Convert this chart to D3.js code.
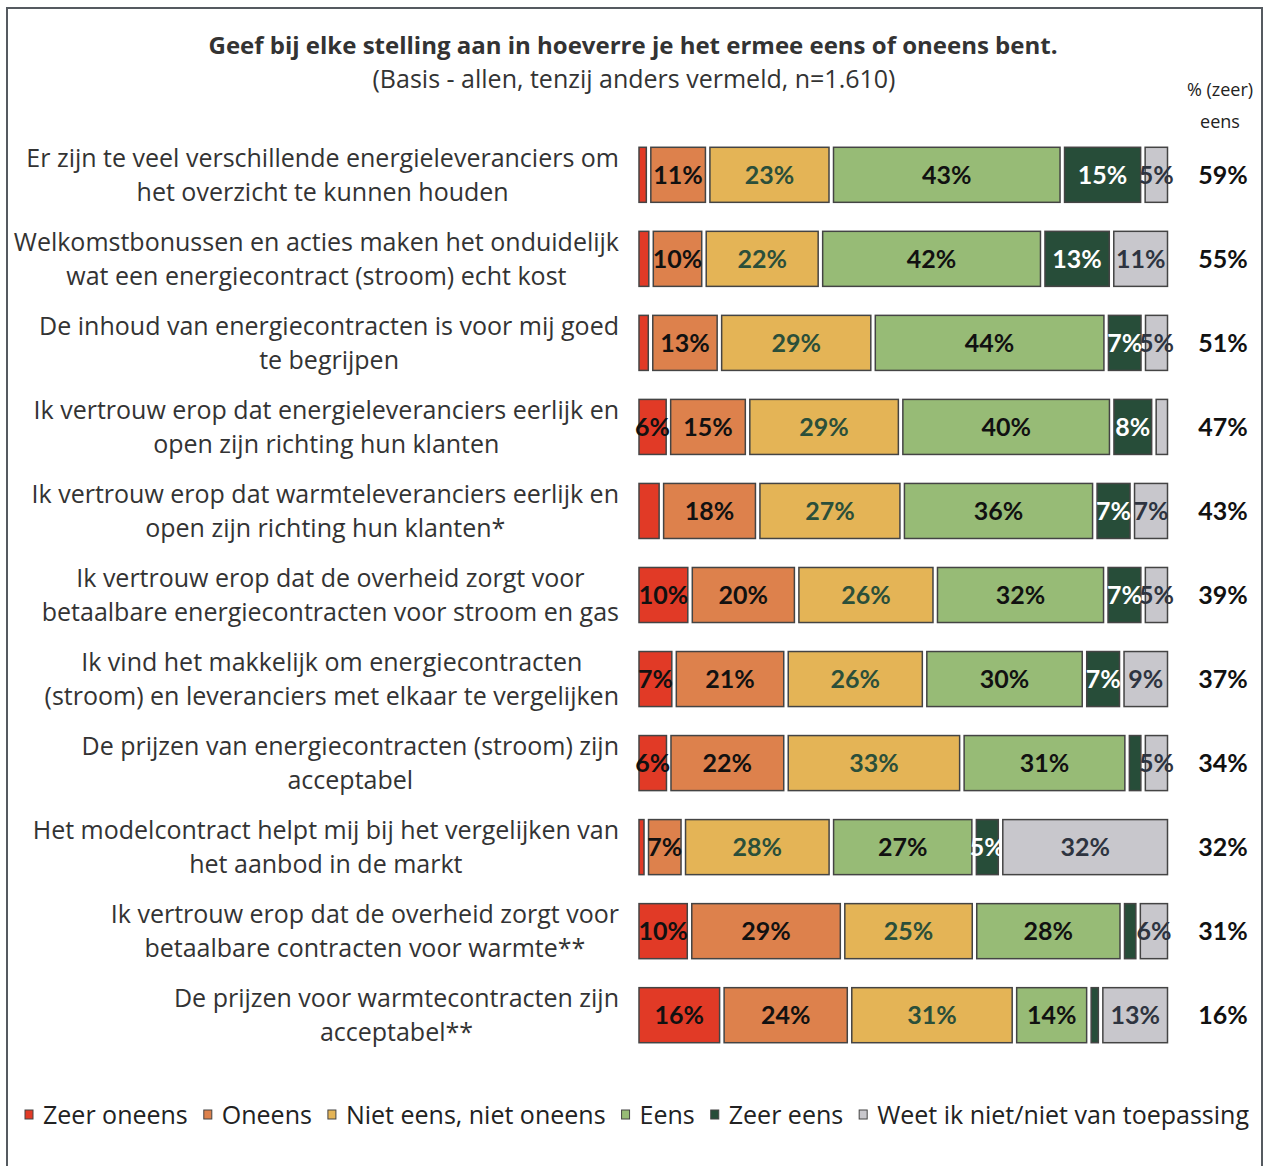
<!DOCTYPE html>
<html><head><meta charset="utf-8">
<script src="https://cdn.jsdelivr.net/npm/d3@7"></script>
<style>
html,body{margin:0;padding:0;background:#fff;}
svg{display:block;font-family:"Open Sans","Noto Sans",sans-serif;}
.num{font-family:Lato,"Open Sans",sans-serif;}
</style></head>
<body>
<svg id="chart" width="1265" height="1166"></svg>
<script>
const categories = [
  ["Er zijn te veel verschillende energieleveranciers om","het overzicht te kunnen houden"],
  ["Welkomstbonussen en acties maken het onduidelijk","wat een energiecontract (stroom) echt kost"],
  ["De inhoud van energiecontracten is voor mij goed","te begrijpen"],
  ["Ik vertrouw erop dat energieleveranciers eerlijk en","open zijn richting hun klanten"],
  ["Ik vertrouw erop dat warmteleveranciers eerlijk en","open zijn richting hun klanten*"],
  ["Ik vertrouw erop dat de overheid zorgt voor","betaalbare energiecontracten voor stroom en gas"],
  ["Ik vind het makkelijk om energiecontracten","(stroom) en leveranciers met elkaar te vergelijken"],
  ["De prijzen van energiecontracten (stroom) zijn","acceptabel"],
  ["Het modelcontract helpt mij bij het vergelijken van","het aanbod in de markt"],
  ["Ik vertrouw erop dat de overheid zorgt voor","betaalbare contracten voor warmte**"],
  ["De prijzen voor warmtecontracten zijn","acceptabel**"]
];
const seriesNames = ["Zeer oneens","Oneens","Niet eens, niet oneens","Eens","Zeer eens","Weet ik niet/niet van toepassing"];
const zeerOneens  = [2.2, 2.7, 2.6, 6, 4.6, 10, 7, 6, 1.8, 10, 16];
const oneens      = [11,10,13,15,18,20,21,22, 7,29,24];
const neutraal    = [23,22,29,29,27,26,26,33,28,25,31];
const eens        = [43,42,44,40,36,32,30,31,27,28,14];
const zeerEens    = [15,13, 7, 8, 7, 7, 7, 3, 5, 3, 2.2];
const weetNiet    = [ 5,11, 5, 3, 7, 5, 9, 5,32, 6,13];
const totalEens   = [59,55,51,47,43,39,37,34,32,31,16];
const colors = ["#e13a26","#dd814c","#e4b456","#97bb76","#274d39","#c8c7cc"];
const labelColors = ["#111","#111","#2b4f3a","#111","#ffffff","#2e3440"];

const svg = d3.select("#chart");
const keys = ["z0","z1","z2","z3","z4","z5"];
const seriesArr = [zeerOneens,oneens,neutraal,eens,zeerEens,weetNiet];
const rows = categories.map((c,i)=>{const o={i};keys.forEach((k,j)=>o[k]=seriesArr[j][i]);return o;});
const stacked = d3.stack().keys(keys).offset(d3.stackOffsetExpand)(rows);

const x = d3.scaleLinear().domain([0,1]).range([639,1172]);
const y = d3.scaleBand().domain(d3.range(categories.length)).range([133,1057]).paddingInner(0.345).paddingOuter(0.17);
const gap = 4.5;

// border
svg.append("rect").attr("x",7).attr("y",8).attr("width",1255).attr("height",1170)
  .attr("fill","none").attr("stroke","#555a60").attr("stroke-width",2);

// title
svg.append("text").attr("x",633).attr("y",54).attr("text-anchor","middle")
  .attr("font-size",24).attr("font-weight",700).attr("fill","#333")
  .text("Geef bij elke stelling aan in hoeverre je het ermee eens of oneens bent.");
svg.append("text").attr("x",634).attr("y",88).attr("text-anchor","middle")
  .attr("font-size",25).attr("fill","#333")
  .text("(Basis - allen, tenzij anders vermeld, n=1.610)");
svg.append("text").attr("x",1220).attr("y",96).attr("text-anchor","middle")
  .attr("font-size",18).attr("fill","#222").text("% (zeer)");
svg.append("text").attr("x",1220).attr("y",128).attr("text-anchor","middle")
  .attr("font-size",18).attr("fill","#222").text("eens");

// bars
const g = svg.append("g");
stacked.forEach((s,j)=>{
  const sg = g.append("g");
  sg.selectAll("rect").data(s).join("rect")
    .attr("x",d=>x(d[0]))
    .attr("y",(d,i)=>y(i))
    .attr("width",d=>Math.max(0,x(d[1])-x(d[0])-gap))
    .attr("height",y.bandwidth())
    .attr("fill",colors[j])
    .attr("stroke","#444").attr("stroke-width",1.5);
  sg.selectAll("text").data(s.filter((d,i)=>seriesArr[j][i]>=5)).join("text")
    .attr("class","num")
    .attr("x",d=>(x(d[0])+x(d[1])-gap)/2)
    .attr("y",d=>y(d.data.i)+y.bandwidth()/2)
    .attr("dy","0.36em")
    .attr("text-anchor","middle")
    .attr("font-size",25).attr("font-weight",700)
    .attr("fill",labelColors[j])
    .text(d=>Math.round(seriesArr[j][d.data.i])+"%");
});

// total eens
svg.append("g").selectAll("text").data(totalEens).join("text")
  .attr("class","num")
  .attr("x",1223).attr("y",(d,i)=>y(i)+y.bandwidth()/2).attr("dy","0.36em")
  .attr("text-anchor","middle").attr("font-size",25).attr("font-weight",700).attr("fill","#111")
  .text(d=>d+"%");

// category labels: block right-aligned at 619, lines centered within block
const lg = svg.append("g");
categories.forEach((lines,i)=>{
  const cy = y(i)+y.bandwidth()/2;
  const texts = lines.map((l,k)=>lg.append("text")
    .attr("y",cy+(k-(lines.length-1)/2)*34).attr("dy","0.35em")
    .attr("text-anchor","middle").attr("font-size",25).attr("fill","#333").text(l));
  const maxW = d3.max(texts,t=>t.node().getComputedTextLength());
  texts.forEach(t=>t.attr("x",619-maxW/2));
});

// legend
const leg = svg.append("g");
let lx = 25;
seriesNames.forEach((n,j)=>{
  leg.append("rect").attr("x",lx).attr("y",1110).attr("width",8).attr("height",9)
    .attr("fill",colors[j]).attr("stroke","#444").attr("stroke-width",1);
  const t = leg.append("text").attr("x",lx+18).attr("y",1115).attr("dy","0.36em")
    .attr("font-size",25).attr("fill","#222").text(n);
  lx += 18 + t.node().getComputedTextLength() + 16;
});
</script>
</body></html>
